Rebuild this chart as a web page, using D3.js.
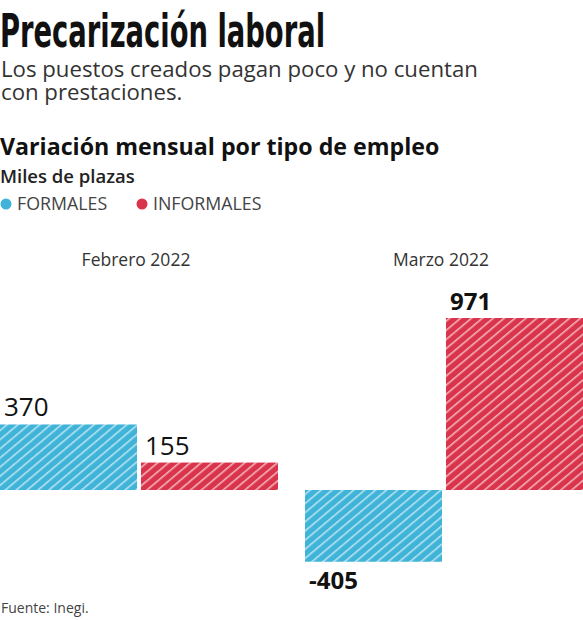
<!DOCTYPE html>
<html>
<head>
<meta charset="utf-8">
<script src="https://cdn.jsdelivr.net/npm/d3@7"></script>
<style>
  body { margin: 0; background: #fff; }
  svg { display: block; }
</style>
</head>
<body>
<script>
// data (miles de plazas)
var months = ["Febrero 2022", "Marzo 2022"];
var series = ["FORMALES", "INFORMALES"];
var formales = [370, -405];
var informales = [155, 971];
var colors = ["#3fb4d8", "#d9344b"];

var width = 583, height = 620;

var svg = d3.select("body").append("svg")
  .attr("width", width)
  .attr("height", height);

// hatch patterns, one per series
var defs = svg.append("defs");
series.forEach(function(s, i) {
  var p = defs.append("pattern")
    .attr("id", "hatch" + i)
    .attr("patternUnits", "userSpaceOnUse")
    .attr("width", 7)
    .attr("height", 7)
    .attr("patternTransform", "rotate(50)");
  p.append("rect")
    .attr("width", 7).attr("height", 7)
    .attr("fill", colors[i]);
  p.append("line")
    .attr("x1", 0.8).attr("y1", 0)
    .attr("x2", 0.8).attr("y2", 7)
    .attr("stroke", "#fff")
    .attr("stroke-opacity", 0.7)
    .attr("stroke-width", 1.4);
});

// headings
svg.append("text")
  .attr("x", 0).attr("y", 47)
  .attr("font-family", "'Liberation Sans Narrow', 'DejaVu Sans Condensed', sans-serif")
  .attr("font-size", 47)
  .attr("font-weight", 700)
  .attr("textLength", 325)
  .attr("lengthAdjust", "spacingAndGlyphs")
  .attr("fill", "#111")
  .text("Precarización laboral");

var sub = ["Los puestos creados pagan poco y no cuentan", "con prestaciones."];
svg.selectAll(".sub")
  .data(sub)
  .enter().append("text")
  .attr("class", "sub")
  .attr("x", 1)
  .attr("y", function(d, i) { return 77 + i * 23; })
  .attr("font-family", "'Open Sans', sans-serif")
  .attr("font-size", 22.2)
  .attr("fill", "#333")
  .text(function(d) { return d; });

svg.append("text")
  .attr("x", 0).attr("y", 155)
  .attr("font-family", "'Open Sans', sans-serif")
  .attr("font-weight", 700)
  .attr("font-size", 23.2)
  .attr("fill", "#111")
  .text("Variación mensual por tipo de empleo");

svg.append("text")
  .attr("x", 0).attr("y", 183)
  .attr("font-family", "'Open Sans', sans-serif")
  .attr("font-weight", 600)
  .attr("font-size", 18.5)
  .attr("fill", "#222")
  .text("Miles de plazas");

// legend
var legendX = [6, 142];
var legend = svg.selectAll(".leg")
  .data(series)
  .enter().append("g")
  .attr("class", "leg")
  .attr("transform", function(d, i) { return "translate(" + legendX[i] + ",204)"; });
legend.append("circle")
  .attr("r", 5.5)
  .attr("fill", function(d, i) { return colors[i]; });
legend.append("text")
  .attr("x", 11).attr("y", 6)
  .attr("font-family", "'Open Sans', sans-serif")
  .attr("font-size", 17.8)
  .attr("fill", "#444")
  .text(function(d) { return d; });

// scales
var x0 = d3.scaleBand()
  .domain(months)
  .range([0, width])
  .paddingInner(27 / 305)
  .paddingOuter(0);

var x1 = d3.scaleBand()
  .domain(series)
  .range([0, x0.bandwidth()])
  .paddingInner(4 / 141)
  .paddingOuter(0);

var y = d3.scaleLinear()
  .domain([0, 971])
  .range([490, 318]);

// month labels
svg.selectAll(".month")
  .data(months)
  .enter().append("text")
  .attr("class", "month")
  .attr("x", function(d) { return x0(d) + x0.bandwidth() / 2 - 3; })
  .attr("y", 266)
  .attr("text-anchor", "middle")
  .attr("font-family", "'Open Sans', sans-serif")
  .attr("font-size", 17.5)
  .attr("fill", "#333")
  .text(function(d) { return d; });

var rows = [];
for (var m = 0; m < months.length; m++) {
  rows.push({ month: months[m], s: 0, value: formales[m], mi: m });
  rows.push({ month: months[m], s: 1, value: informales[m], mi: m });
}

var groups = svg.selectAll(".bar")
  .data(rows)
  .enter().append("g")
  .attr("class", "bar");

groups.append("rect")
  .attr("x", function(d) { return x0(d.month) + x1(series[d.s]); })
  .attr("width", x1.bandwidth())
  .attr("y", function(d) { return Math.min(y(d.value), y(0)); })
  .attr("height", function(d) { return Math.abs(y(d.value) - y(0)); })
  .attr("fill", function(d) { return "url(#hatch" + d.s + ")"; });

groups.append("text")
  .attr("x", function(d) { return x0(d.month) + x1(series[d.s]) + 4; })
  .attr("y", function(d) {
    return d.value >= 0 ? y(d.value) - 8 : y(d.value) + 27;
  })
  .attr("font-family", "'Open Sans', sans-serif")
  .attr("font-weight", function(d) { return d.mi === 1 ? 700 : 400; })
  .attr("font-size", function(d) { return d.mi === 1 ? 24 : 26; })
  .attr("fill", "#111")
  .text(function(d) { return d.value; });

svg.append("text")
  .attr("x", 1).attr("y", 613)
  .attr("font-family", "'Open Sans', sans-serif")
  .attr("font-size", 14)
  .attr("fill", "#444")
  .text("Fuente: Inegi.");
</script>
</body>
</html>
